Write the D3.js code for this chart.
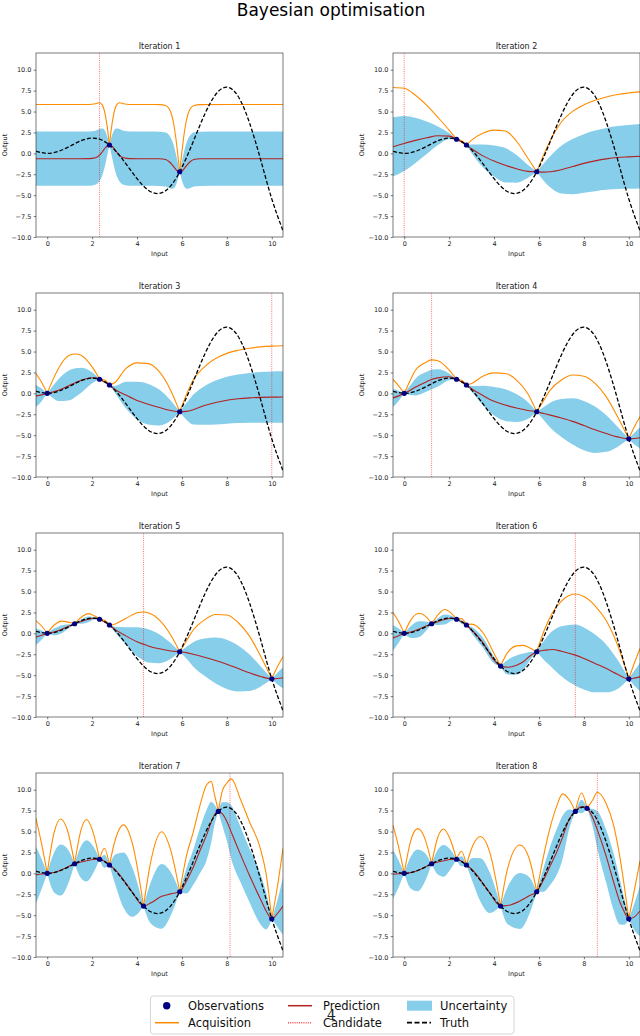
<!DOCTYPE html>
<html>
<head>
<meta charset="utf-8">
<script src="https://cdn.jsdelivr.net/npm/d3@7"></script>
<style>
    body { margin: 0; background: #fff; }
    svg { display: block; font-family: "DejaVu Sans", sans-serif; }
</style>
</head>
<body>
<svg id="chart" width="640" height="1036"></svg>
<script>
const chartTitle = "Bayesian optimisation";
const iterTitles = ["Iteration 1", "Iteration 2", "Iteration 3", "Iteration 4",
    "Iteration 5", "Iteration 6", "Iteration 7", "Iteration 8"];
const xTicks = [0, 2, 4, 6, 8, 10];
const yTicks = [-10, -7.5, -5, -2.5, 0, 2.5, 5, 7.5, 10];

// the true function
const truthX = [-0.5, 0, 0.5, 1, 1.5, 2, 2.5, 3, 3.5, 4, 4.5, 5, 5.5, 6, 6.5, 7, 7.5, 8, 8.5, 9, 9.5, 10, 10.5];
const truthY = [0.24, 0, 0.24, 0.84, 1.5, 1.82, 1.5, 0.42, -1.23, -3.03, -4.4, -4.79, -3.89, -1.68, 1.4, 4.6, 7.04, 7.91, 6.83, 3.71, -0.71, -5.44, -9.24];

// observations in the order they were sampled (iteration k shows the first k+1)
const obsX = [2.77, 5.9, 2.33, 0, 10, 1.22, 4.29, 7.62, 8.14];
const obsY = [1.0, -2.2, 1.69, 0, -5.44, 1.15, -3.91, 7.41, 7.78];
const candidateX = [2.33, 0, 10, 1.22, 4.29, 7.62, 8.14, 8.6];

// per iteration: [input, prediction, std, acquisition]
const gp1 = [
    [-0.5, -0.64, 3.24, 5.84], [1.0, -0.64, 3.24, 5.84], [1.87, -0.63, 3.24, 5.85],
    [2.14, -0.53, 3.23, 5.93], [2.32, -0.23, 3.14, 6.05], [2.41, 0.03, 2.95, 5.93],
    [2.5, 0.36, 2.58, 5.52], [2.59, 0.67, 1.94, 4.55], [2.68, 0.91, 1.05, 3.01],
    [2.77, 1.0, 0, 1.0], [2.86, 0.91, 1.05, 3.01], [2.95, 0.67, 1.94, 4.55],
    [3.04, 0.36, 2.58, 5.52], [3.13, 0.03, 2.95, 5.93], [3.22, -0.23, 3.14, 6.05],
    [3.4, -0.53, 3.23, 5.93], [3.67, -0.63, 3.24, 5.85], [4.5, -0.64, 3.24, 5.84],
    [5.0, -0.65, 3.24, 5.83], [5.27, -0.74, 3.23, 5.72], [5.45, -1.03, 3.14, 5.25],
    [5.54, -1.28, 2.95, 4.62], [5.63, -1.59, 2.58, 3.57], [5.72, -1.89, 1.94, 1.99],
    [5.81, -2.12, 1.05, -0.02], [5.9, -2.2, 0, -2.2], [5.99, -2.12, 1.05, -0.02],
    [6.08, -1.89, 1.94, 1.99], [6.17, -1.59, 2.58, 3.57], [6.26, -1.28, 2.95, 4.62],
    [6.35, -1.03, 3.14, 5.25], [6.53, -0.74, 3.23, 5.72], [6.8, -0.65, 3.24, 5.83],
    [8.0, -0.64, 3.24, 5.84], [10.5, -0.64, 3.24, 5.84]
];
const gp2 = [
    [-0.5, 0.78, 3.55, 7.88], [0, 1.18, 3.3, 7.78], [0.5, 1.55, 2.7, 6.95],
    [1.0, 1.86, 1.95, 5.76], [1.5, 2.1, 1.1, 4.3], [2.0, 2.06, 0.36, 2.78],
    [2.33, 1.69, 0, 1.69], [2.55, 1.36, 0.08, 1.52], [2.77, 1.0, 0, 1.0],
    [3.0, 0.55, 0.52, 1.59], [3.5, -0.3, 1.35, 2.4], [4.0, -0.92, 1.85, 2.78],
    [4.5, -1.42, 2.05, 2.68], [5.0, -1.85, 1.65, 1.45], [5.5, -2.15, 0.8, -0.55],
    [5.9, -2.2, 0, -2.2], [6.2, -2.24, 1.0, -0.24], [6.5, -2.2, 1.85, 1.5],
    [7.0, -1.95, 2.85, 3.75], [7.5, -1.58, 3.3, 5.02], [8.0, -1.2, 3.5, 5.8],
    [8.5, -0.9, 3.62, 6.34], [9.0, -0.66, 3.7, 6.74], [9.5, -0.5, 3.77, 7.04],
    [10.0, -0.42, 3.82, 7.22], [10.5, -0.35, 3.85, 7.35]
];
const gp3 = [
    [-0.5, -0.3, 1.34, 2.38], [-0.25, -0.18, 0.75, 1.32], [0, 0, 0, 0],
    [0.25, 0.17, 0.72, 1.61], [0.5, 0.38, 1.3, 2.98], [1.0, 0.98, 1.8, 4.58],
    [1.25, 1.28, 1.71, 4.7], [1.5, 1.55, 1.5, 4.55], [2.0, 1.86, 0.65, 3.16],
    [2.33, 1.69, 0, 1.69], [2.55, 1.36, 0.12, 1.6], [2.77, 1.0, 0, 1.0],
    [3.0, 0.5, 0.38, 1.26], [3.5, -0.2, 1.58, 2.96], [4.0, -0.85, 2.25, 3.65],
    [4.5, -1.3, 2.43, 3.56], [5.0, -1.7, 2.13, 2.56], [5.5, -2.05, 1.2, 0.35],
    [5.9, -2.2, 0, -2.2], [6.2, -2.15, 1.0, -0.15], [6.5, -1.95, 1.77, 1.59],
    [7.0, -1.45, 2.31, 3.17], [7.5, -1.1, 2.63, 4.16], [8.0, -0.82, 2.8, 4.78],
    [8.5, -0.65, 2.9, 5.15], [9.0, -0.54, 2.97, 5.4], [9.5, -0.48, 3.02, 5.56],
    [10.0, -0.45, 3.05, 5.65], [10.5, -0.44, 3.07, 5.7]
];
const gp4 = [
    [-0.5, -0.54, 1.1, 1.66], [-0.25, -0.3, 0.6, 0.9], [0, 0, 0, 0],
    [0.25, 0.35, 0.55, 1.45], [0.5, 0.75, 1.01, 2.77], [1.0, 1.4, 1.18, 3.76],
    [1.22, 1.66, 1.17, 4.0], [1.5, 1.85, 1.02, 3.89], [2.0, 1.98, 0.4, 2.78],
    [2.33, 1.69, 0, 1.69], [2.55, 1.36, 0.1, 1.56], [2.77, 1.0, 0, 1.0],
    [3.0, 0.55, 0.32, 1.19], [3.5, -0.25, 1.15, 2.05], [4.0, -0.95, 1.7, 2.45],
    [4.5, -1.4, 1.89, 2.38], [5.0, -1.75, 1.67, 1.59], [5.5, -2.05, 1.02, -0.01],
    [5.9, -2.2, 0, -2.2], [6.2, -2.4, 0.75, -0.9], [6.5, -2.6, 1.49, 0.38],
    [7.0, -2.95, 2.27, 1.59], [7.5, -3.35, 2.77, 2.19], [8.0, -3.85, 2.95, 2.05],
    [8.5, -4.35, 2.77, 1.19], [9.0, -4.8, 2.19, -0.42], [9.5, -5.2, 1.2, -2.8],
    [10.0, -5.44, 0, -5.44], [10.25, -5.4, 0.7, -4.0], [10.5, -5.3, 1.25, -2.8]
];
const gp5 = [
    [-0.5, -0.42, 0.96, 1.5], [-0.25, -0.22, 0.55, 0.88], [0, 0, 0, 0],
    [0.3, 0.17, 0.4, 0.97], [0.65, 0.5, 0.48, 1.46], [1.0, 0.9, 0.2, 1.3],
    [1.22, 1.15, 0, 1.15], [1.5, 1.4, 0.25, 1.9], [1.85, 1.7, 0.33, 2.36],
    [2.1, 1.8, 0.15, 2.1], [2.33, 1.69, 0, 1.69], [2.55, 1.36, 0.1, 1.56],
    [2.77, 1.0, 0, 1.0], [3.0, 0.5, 0.3, 1.1], [3.5, -0.3, 1.04, 1.78],
    [4.0, -1.0, 1.73, 2.46], [4.29, -1.3, 1.93, 2.56], [4.5, -1.5, 1.98, 2.46],
    [5.0, -1.85, 1.72, 1.59], [5.5, -2.1, 0.95, -0.2], [5.9, -2.2, 0, -2.2],
    [6.2, -2.3, 0.7, -0.9], [6.5, -2.5, 1.45, 0.4], [7.0, -2.85, 2.23, 1.61],
    [7.5, -3.25, 2.75, 2.25], [8.0, -3.7, 2.95, 2.2], [8.5, -4.2, 2.75, 1.3],
    [9.0, -4.7, 2.2, -0.3], [9.5, -5.15, 1.22, -2.71], [10.0, -5.44, 0, -5.44],
    [10.25, -5.4, 0.7, -4.0], [10.5, -5.3, 1.25, -2.8]
];
const gp6 = [
    [-0.5, -0.54, 1.52, 2.5], [-0.25, -0.28, 0.85, 1.42], [0, 0, 0, 0],
    [0.3, 0.17, 0.72, 1.61], [0.65, 0.5, 0.95, 2.4], [1.0, 0.9, 0.5, 1.9],
    [1.22, 1.15, 0, 1.15], [1.5, 1.4, 0.4, 2.2], [1.8, 1.65, 0.6, 2.85],
    [2.1, 1.8, 0.3, 2.4], [2.33, 1.69, 0, 1.69], [2.55, 1.36, 0.2, 1.76],
    [2.77, 1.0, 0, 1.0], [3.0, 0.4, 0.35, 1.1], [3.5, -1.1, 0.6, 0.1],
    [4.0, -3.2, 0.4, -2.4], [4.29, -3.91, 0, -3.91], [4.6, -4.05, 0.87, -2.31],
    [5.0, -3.8, 1.15, -1.5], [5.3, -3.4, 0.98, -1.44], [5.6, -2.7, 0.48, -1.74],
    [5.9, -2.2, 0, -2.2], [6.3, -2.0, 1.4, 0.8], [6.6, -1.93, 2.2, 2.47],
    [7.0, -2.14, 3.0, 3.86], [7.62, -2.6, 3.65, 4.7], [8.0, -3.0, 3.7, 4.4],
    [8.5, -3.6, 3.45, 3.3], [9.0, -4.2, 2.85, 1.5], [9.5, -4.9, 1.75, -1.4],
    [10.0, -5.44, 0, -5.44], [10.25, -5.35, 0.9, -3.55], [10.5, -5.2, 1.7, -1.8]
];
const gp7 = [
    [-0.5, -0.18, 3.37, 6.56], [-0.25, -0.08, 1.8, 3.52], [0, 0, 0, 0],
    [0.3, 0.1, 2.35, 4.8], [0.6, 0.4, 3.05, 6.5], [0.9, 0.75, 2.2, 5.15],
    [1.22, 1.15, 0, 1.15], [1.5, 1.35, 1.9, 5.15], [1.75, 1.5, 2.47, 6.44],
    [2.05, 1.65, 1.6, 4.85], [2.33, 1.69, 0, 1.69], [2.55, 1.45, 0.78, 3.01],
    [2.77, 1.0, 0, 1.0], [3.05, 0.4, 1.9, 4.2], [3.4, -0.8, 3.3, 5.8],
    [3.8, -2.3, 2.9, 3.5], [4.29, -3.91, 0, -3.91], [4.6, -3.55, 2.4, 1.25],
    [5.1, -2.75, 3.86, 4.97], [5.5, -2.45, 2.6, 2.75], [5.9, -2.2, 0, -2.2],
    [6.2, -0.9, 1.5, 2.1], [6.5, 0.7, 2.1, 4.9], [6.8, 2.7, 2.7, 8.1],
    [7.1, 4.6, 3.0, 10.6], [7.3, 6.1, 2.45, 11.0], [7.45, 7.0, 1.2, 9.4],
    [7.62, 7.41, 0, 7.41], [7.8, 7.1, 1.4, 9.9], [8.0, 6.2, 2.3, 10.8],
    [8.2, 4.9, 3.2, 11.3], [8.6, 2.3, 3.3, 8.9], [9.0, -0.2, 3.2, 6.2],
    [9.5, -3.1, 3.0, 2.9], [9.75, -4.5, 2.2, -0.1], [10.0, -5.44, 0, -5.44],
    [10.25, -4.8, 1.6, -1.6], [10.5, -3.9, 3.45, 3.0]
];
const gp8 = [
    [-0.5, -0.1, 2.93, 5.76], [-0.25, -0.05, 1.6, 3.15], [0, 0, 0, 0],
    [0.3, 0.1, 1.95, 4.0], [0.6, 0.35, 2.5, 5.35], [0.9, 0.7, 1.8, 4.3],
    [1.22, 1.15, 0, 1.15], [1.5, 1.35, 1.5, 4.35], [1.75, 1.5, 1.9, 5.3],
    [2.05, 1.65, 1.2, 4.05], [2.33, 1.69, 0, 1.69], [2.55, 1.45, 0.6, 2.65],
    [2.77, 1.0, 0, 1.0], [3.05, 0.4, 1.45, 3.3], [3.4, -0.8, 2.6, 4.4],
    [3.8, -2.3, 2.45, 2.6], [4.29, -3.91, 0, -3.91], [4.6, -3.85, 2.2, 0.55],
    [5.15, -3.3, 3.35, 3.4], [5.55, -2.7, 2.3, 1.9], [5.9, -2.2, 0, -2.2],
    [6.2, -0.8, 1.4, 2.0], [6.5, 0.9, 2.3, 5.5], [6.8, 2.6, 2.75, 8.1],
    [7.05, 4.3, 2.6, 9.5], [7.35, 6.5, 1.15, 8.8], [7.62, 7.41, 0, 7.41],
    [7.9, 8.0, 0.8, 9.6], [8.14, 7.78, 0, 7.78], [8.4, 6.6, 1.1, 8.8],
    [8.6, 5.2, 2.25, 9.7], [9.0, 2.0, 3.15, 8.3], [9.3, -0.8, 3.4, 6.0],
    [9.6, -3.4, 2.7, 2.0], [9.8, -4.6, 1.55, -1.5], [10.0, -5.44, 0, -5.44],
    [10.25, -5.2, 1.6, -2.0], [10.5, -4.5, 3.0, 1.5]
];
const gpTables = [gp1, gp2, gp3, gp4, gp5, gp6, gp7, gp8];

const legendLabels = ["Observations", "Acquisition", "Prediction", "Candidate", "Uncertainty", "Truth"];

const colors = {
    band: "#87ceeb",
    acq: "#ff8c00",
    mean: "#b22222",
    candidate: "#ff0000",
    truth: "#000000",
    obs: "#000080"
};

const svg = d3.select("#chart");
const colLeft = [36, 393];
const rowTop = [53, 293, 533, 773];
const plotW = 247, plotH = 184;

const x = d3.scaleLinear().domain([-0.5, 10.5]).range([0, plotW]);
const y = d3.scaleLinear().domain([-10, 12]).range([plotH, 0]);

// cut a table into pieces that end on observations, so the dips stay sharp
const splitAtObs = (rows, cuts) => {
    let segs = [];
    let cur = [];
    rows.forEach((r) => {
        cur.push(r);
        let hit = cuts.some((c) => Math.abs(c - r[0]) < 1e-6);
        if (hit && cur.length > 1) {
            segs.push(cur);
            cur = [r];
        }
    });
    if (cur.length > 1) segs.push(cur);
    return segs;
};

svg.append("text")
    .attr("x", 331)
    .attr("y", 16)
    .attr("text-anchor", "middle")
    .attr("font-size", 17)
    .text(chartTitle);

gpTables.forEach((rows, k) => {
    let g = svg.append("g")
        .attr("transform", `translate(${colLeft[k % 2]},${rowTop[Math.floor(k / 2)]})`);

    g.append("clipPath").attr("id", "clip" + k)
        .append("rect").attr("width", plotW).attr("height", plotH);
    let plot = g.append("g").attr("clip-path", `url(#clip${k})`);

    let seenX = obsX.slice(0, k + 2);
    let seenY = obsY.slice(0, k + 2);
    let segs = splitAtObs(rows, seenX);

    let band = d3.area()
        .x((r) => x(r[0]))
        .y0((r) => y(r[1] - r[2]))
        .y1((r) => y(r[1] + r[2]))
        .curve(d3.curveMonotoneX);
    let acqLine = d3.line()
        .x((r) => x(r[0]))
        .y((r) => y(r[3]))
        .curve(d3.curveMonotoneX);
    let meanLine = d3.line()
        .x((r) => x(r[0]))
        .y((r) => y(r[1]))
        .curve(d3.curveMonotoneX);

    plot.selectAll("path.band")
        .data(segs)
        .enter()
        .append("path")
        .attr("class", "band")
        .attr("d", band)
        .attr("fill", colors.band);

    plot.selectAll("path.acq")
        .data(segs)
        .enter()
        .append("path")
        .attr("class", "acq")
        .attr("d", acqLine)
        .attr("fill", "none")
        .attr("stroke", colors.acq)
        .attr("stroke-width", 1.1);

    plot.append("path")
        .attr("d", meanLine(rows))
        .attr("fill", "none")
        .attr("stroke", colors.mean)
        .attr("stroke-width", 1.1);

    plot.append("line")
        .attr("x1", x(candidateX[k]))
        .attr("x2", x(candidateX[k]))
        .attr("y1", y(-10))
        .attr("y2", y(12))
        .attr("stroke", colors.candidate)
        .attr("stroke-opacity", 0.7)
        .attr("stroke-width", 0.8)
        .attr("stroke-dasharray", "1,1.2");

    let truthLine = d3.line()
        .x((d, i) => x(truthX[i]))
        .y((d) => y(d))
        .curve(d3.curveNatural);
    plot.append("path")
        .attr("d", truthLine(truthY))
        .attr("fill", "none")
        .attr("stroke", colors.truth)
        .attr("stroke-width", 1.3)
        .attr("stroke-dasharray", "4,2");

    g.selectAll("circle")
        .data(seenX)
        .enter()
        .append("circle")
        .attr("cx", (d) => x(d))
        .attr("cy", (d, i) => y(seenY[i]))
        .attr("r", 2.6)
        .attr("fill", colors.obs);

    // axes
    let xAxis = g.append("g")
        .attr("transform", `translate(0,${plotH})`)
        .call(d3.axisBottom(x).tickValues(xTicks).tickSize(2.3).tickPadding(2.3));
    let yAxis = g.append("g")
        .call(d3.axisLeft(y).tickValues(yTicks).tickFormat(d3.format(".1f")).tickSize(2.3).tickPadding(2.3));
    [xAxis, yAxis].forEach((a) => {
        a.select(".domain").remove();
        a.selectAll("line").attr("stroke", "#222").attr("stroke-width", 0.6);
        a.selectAll("text")
            .attr("font-size", 6.5)
            .attr("font-family", "DejaVu Sans")
            .attr("fill", "#222");
    });

    g.append("rect")
        .attr("width", plotW)
        .attr("height", plotH)
        .attr("fill", "none")
        .attr("stroke", "#222")
        .attr("stroke-width", 0.6);

    g.append("text")
        .attr("x", plotW / 2)
        .attr("y", -4.5)
        .attr("text-anchor", "middle")
        .attr("font-size", 8)
        .attr("fill", "#222")
        .text(iterTitles[k]);

    g.append("text")
        .attr("x", plotW / 2)
        .attr("y", plotH + 18.5)
        .attr("text-anchor", "middle")
        .attr("font-size", 6.5)
        .attr("fill", "#222")
        .text("Input");

    g.append("text")
        .attr("transform", `translate(-29.5,${plotH / 2}) rotate(-90)`)
        .attr("text-anchor", "middle")
        .attr("font-size", 6.5)
        .attr("fill", "#222")
        .text("Output");
});

// legend, three columns of two rows
let legend = svg.append("g");
legend.append("rect")
    .attr("x", 150.5).attr("y", 996)
    .attr("width", 363.5).attr("height", 38)
    .attr("rx", 3)
    .attr("fill", "#fff")
    .attr("fill-opacity", 0.8)
    .attr("stroke", "#ccc")
    .attr("stroke-width", 0.8);

const legendCols = [155, 288, 407];
const legendTextX = [188, 323, 440];
const legendRows = [1005.7, 1022.7];

legendLabels.forEach((label, i) => {
    let c = Math.floor(i / 2), r = i % 2;
    let hx = legendCols[c], hy = legendRows[r];
    let item = legend.append("g");
    if (label === "Observations") {
        item.append("circle").attr("cx", hx + 11.7).attr("cy", hy).attr("r", 3.7).attr("fill", colors.obs);
    } else if (label === "Uncertainty") {
        item.append("rect").attr("x", hx).attr("y", hy - 5).attr("width", 25).attr("height", 10).attr("fill", colors.band);
    } else {
        let ln = item.append("line")
            .attr("x1", hx).attr("x2", hx + 24)
            .attr("y1", hy).attr("y2", hy)
            .attr("stroke-width", 1.5);
        if (label === "Acquisition") ln.attr("stroke", colors.acq);
        if (label === "Prediction") ln.attr("stroke", colors.mean);
        if (label === "Candidate") ln.attr("stroke", colors.candidate).attr("stroke-opacity", 0.7).attr("stroke-dasharray", "1,1.2");
        if (label === "Truth") ln.attr("stroke", colors.truth).attr("stroke-width", 1.8).attr("stroke-dasharray", "5,2.5");
    }
    item.append("text")
        .attr("x", legendTextX[c])
        .attr("y", hy + 4)
        .attr("font-size", 11.5)
        .attr("fill", "#111")
        .text(label);
});

// stray page number sitting on top of the legend, as in the source image
svg.append("text")
    .attr("x", 331.5)
    .attr("y", 1020)
    .attr("text-anchor", "middle")
    .attr("font-family", "DejaVu Serif, serif")
    .attr("font-size", 14)
    .attr("fill", "#222")
    .text("4");
</script>
</body>
</html>
